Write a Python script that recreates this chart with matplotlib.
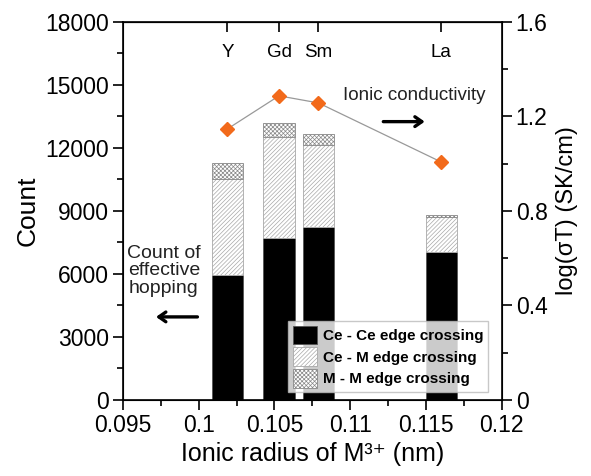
import numpy as np
import matplotlib.pyplot as plt
from matplotlib.ticker import MultipleLocator

plt.rcParams['font.family'] = ['Liberation Sans', 'DejaVu Sans']
plt.rcParams['hatch.linewidth'] = 0.5

elements = ['Y', 'Gd', 'Sm', 'La']
radius = [0.1019, 0.1053, 0.1079, 0.1160]
ce_ce = [5950, 7700, 8250, 7050]
ce_m = [4550, 4800, 3900, 1680]
m_m = [800, 700, 520, 80]
log_sigma_t = [1.147, 1.287, 1.257, 1.007]

fig = plt.figure(figsize=(5.91, 4.76), dpi=100)
ax = fig.add_axes([0.208, 0.160, 0.641, 0.794])

w = 0.00205
b1 = np.array(ce_ce)
b2 = b1 + np.array(ce_m)
ax.bar(radius, ce_ce, w, color='black', edgecolor='#555555', lw=0.6,
       label='Ce - Ce edge crossing', zorder=2)
ax.bar(radius, ce_m, w, bottom=b1, color='white', edgecolor='#a8a8a8', lw=0.6,
       hatch='////////', label='Ce - M edge crossing', zorder=2)
ax.bar(radius, m_m, w, bottom=b2, color='white', edgecolor='#888888', lw=0.6,
       hatch='xxxxxxxx', label='M - M edge crossing', zorder=2)

ax.set_xlim(0.095, 0.12)
ax.set_ylim(0, 18000)
ax.xaxis.set_minor_locator(MultipleLocator(0.0025))
ax.yaxis.set_major_locator(MultipleLocator(3000))
ax.yaxis.set_minor_locator(MultipleLocator(1500))
ax.set_xticks([0.095, 0.1, 0.105, 0.11, 0.115, 0.12])
ax.set_xticklabels(['0.095', '0.1', '0.105', '0.11', '0.115', '0.12'])
ax.tick_params(which='major', length=7, width=1.2, labelsize=16.5, pad=3)
ax.tick_params(which='minor', length=4, width=1.2)
ax.tick_params(axis='x', which='both', top=False)
for s in ax.spines.values():
    s.set_linewidth(1.2)
ax.set_ylabel('Count', fontsize=19, labelpad=4)
ax.set_xlabel('Ionic radius of M\u00b3\u207a (nm)', fontsize=18, labelpad=4)

leg = ax.legend(loc='lower right', bbox_to_anchor=(0.985, 0.0),
                prop={'weight': 'bold', 'size': 11}, frameon=True, fancybox=False,
                edgecolor='#bbbbbb', handlelength=1.6, handleheight=1.5,
                handletextpad=0.4, borderpad=0.3, labelspacing=0.2)
leg.set_zorder(5)

ax2 = ax.twinx()
ax2.plot(radius, log_sigma_t, color='#999999', lw=0.9, marker='D', ms=7,
         mfc='#f26a1b', mec='#f26a1b', zorder=3)
ax2.set_ylim(0, 1.6)
ax2.yaxis.set_minor_locator(MultipleLocator(0.2))
ax2.set_yticks([0, 0.4, 0.8, 1.2, 1.6])
ax2.set_yticklabels(['0', '0.4', '0.8', '1.2', '1.6'])
ax2.tick_params(which='major', length=7, width=1.2, labelsize=16.5, pad=3)
ax2.tick_params(which='minor', length=4, width=1.2)
ax2.set_ylabel('log(\u03c3T) (SK/cm)', fontsize=17, labelpad=6)

top = ax.secondary_xaxis('top')
top.set_xticks(radius)
top.set_xticklabels(elements)
top.tick_params(direction='in', length=7, width=1.2, pad=-28, labelsize=13.5)

ax.text(0.1095, 14500, 'Ionic conductivity', fontsize=13.5, color='#222222',
        ha='left', va='center', zorder=6)
ax.annotate('', xy=(0.1151, 13250), xytext=(0.1120, 13250),
            arrowprops=dict(arrowstyle='->,head_length=0.5,head_width=0.35',
                            color='black', lw=2.4))
ax.text(0.0977, 6150, 'Count of\neffective\nhopping', fontsize=14, color='#222222',
        ha='center', va='center', linespacing=1.05)
ax.annotate('', xy=(0.0970, 3950), xytext=(0.1001, 3950),
            arrowprops=dict(arrowstyle='->,head_length=0.5,head_width=0.35',
                            color='black', lw=2.4))

fig.savefig('out.png', dpi=100)
